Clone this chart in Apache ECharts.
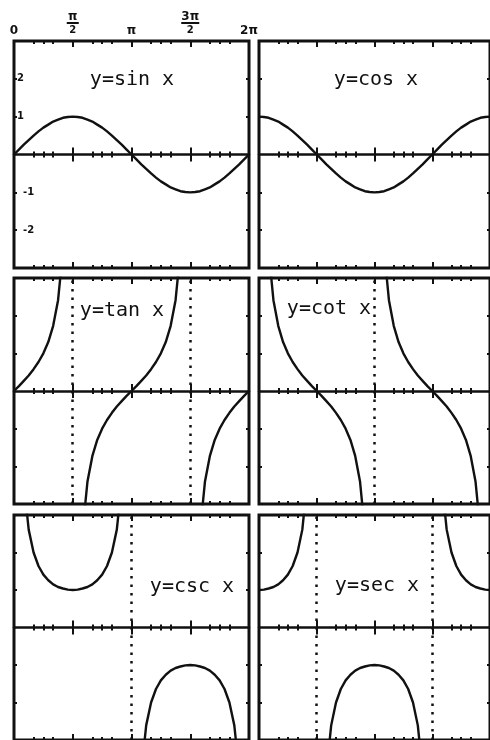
<!DOCTYPE html>
<html><head><meta charset="utf-8">
<script src="https://cdn.jsdelivr.net/npm/echarts@6/dist/echarts.min.js"></script>
<style>html,body{margin:0;padding:0;background:#fff}#c{width:490px;height:740px}</style>
</head><body><div id="c"></div>
<script>
// x sample positions (radians), read along the horizontal axis
const xs = [0,0.1309,0.2618,0.3927,0.5236,0.6545,0.7854,0.9163,1.0472,1.1781,1.309,1.4399,1.5708,1.7017,1.8326,1.9635,2.0944,2.2253,2.3562,2.4871,2.618,2.7489,2.8798,3.0107,3.1416,3.2725,3.4034,3.5343,3.6652,3.7961,3.927,4.0579,4.1888,4.3197,4.4506,4.5815,4.7124,4.8433,4.9742,5.1051,5.236,5.3669,5.4978,5.6287,5.7596,5.8905,6.0214,6.1523,6.2832];

const sinY = [0,0.13,0.26,0.38,0.5,0.61,0.71,0.79,0.87,0.92,0.97,0.99,1,0.99,0.97,0.92,0.87,0.79,0.71,0.61,0.5,0.38,0.26,0.13,0,-0.13,-0.26,-0.38,-0.5,-0.61,-0.71,-0.79,-0.87,-0.92,-0.97,-0.99,-1,-0.99,-0.97,-0.92,-0.87,-0.79,-0.71,-0.61,-0.5,-0.38,-0.26,-0.13,0];
const cosY = [1,0.99,0.97,0.92,0.87,0.79,0.71,0.61,0.5,0.38,0.26,0.13,0,-0.13,-0.26,-0.38,-0.5,-0.61,-0.71,-0.79,-0.87,-0.92,-0.97,-0.99,-1,-0.99,-0.97,-0.92,-0.87,-0.79,-0.71,-0.61,-0.5,-0.38,-0.26,-0.13,0,0.13,0.26,0.38,0.5,0.61,0.71,0.79,0.87,0.92,0.97,0.99,1];
const tanY = [0,0.13,0.27,0.41,0.58,0.77,1,1.3,1.73,2.41,3.73,7.6,null,-7.6,-3.73,-2.41,-1.73,-1.3,-1,-0.77,-0.58,-0.41,-0.27,-0.13,0,0.13,0.27,0.41,0.58,0.77,1,1.3,1.73,2.41,3.73,7.6,null,-7.6,-3.73,-2.41,-1.73,-1.3,-1,-0.77,-0.58,-0.41,-0.27,-0.13,0];
const cotY = [null,7.6,3.73,2.41,1.73,1.3,1,0.77,0.58,0.41,0.27,0.13,0,-0.13,-0.27,-0.41,-0.58,-0.77,-1,-1.3,-1.73,-2.41,-3.73,-7.6,null,7.6,3.73,2.41,1.73,1.3,1,0.77,0.58,0.41,0.27,0.13,0,-0.13,-0.27,-0.41,-0.58,-0.77,-1,-1.3,-1.73,-2.41,-3.73,-7.6,null];
const cscY = [null,7.66,3.86,2.61,2,1.64,1.41,1.26,1.15,1.08,1.04,1.01,1,1.01,1.04,1.08,1.15,1.26,1.41,1.64,2,2.61,3.86,7.66,null,-7.66,-3.86,-2.61,-2,-1.64,-1.41,-1.26,-1.15,-1.08,-1.04,-1.01,-1,-1.01,-1.04,-1.08,-1.15,-1.26,-1.41,-1.64,-2,-2.61,-3.86,-7.66,null];
const secY = [1,1.01,1.04,1.08,1.15,1.26,1.41,1.64,2,2.61,3.86,7.66,null,-7.66,-3.86,-2.61,-2,-1.64,-1.41,-1.26,-1.15,-1.08,-1.04,-1.01,-1,-1.01,-1.04,-1.08,-1.15,-1.26,-1.41,-1.64,-2,-2.61,-3.86,-7.66,null,7.66,3.86,2.61,2,1.64,1.41,1.26,1.15,1.08,1.04,1.01,1];

const functionNames = ['y=sin x','y=cos x','y=tan x','y=cot x','y=csc x','y=sec x'];
const functionValues = [sinY, cosY, tanY, cotY, cscY, secY];
const asymptotes = [[], [], [1.5708, 4.7124], [3.1416], [3.1416], [1.5708, 4.7124]];

const majorTicks = [0, 1.5708, 3.1416, 4.7124, 6.2832];
const minorTicks = [0.5236,0.7854,1.0472,2.0944,2.3562,2.618,3.6652,3.927,4.1888,5.236,5.4978,5.7596];
const topTickLabels = ['0', 'π/2', 'π', '3π/2', '2π'];
const yTicks = [-2, -1, 1, 2];
const yTickLabels = ['-2', '-1', '1', '2'];

const INK = '#111';
const grids = [
  {left:14, top:41, width:235, height:227},
  {left:259, top:41, width:234, height:227},
  {left:14, top:278, width:235, height:226},
  {left:259, top:278, width:234, height:226},
  {left:14, top:515, width:235, height:228},
  {left:259, top:515, width:234, height:228}
];
const titlePos = [[132,80],[376,80],[122,311],[329,309],[192,587],[377,586]];

function nearestIdx(arr, v){ let b=0; for(let i=1;i<arr.length;i++){ if(Math.abs(arr[i]-v)<Math.abs(arr[b]-v)) b=i; } return b; }

const xAxes = [], yAxes = [], series = [];
grids.forEach((g, gi) => {
  const base = {type:'value', gridIndex:gi, min:majorTicks[0], max:majorTicks[4], splitLine:{show:false}, axisLabel:{show:false}};
  const tick = (vals, len, inside) => ({show:true, inside:inside, length:len, customValues:vals, lineStyle:{color:INK, width:2}});
  const yLeft = 2*gi;
  // bottom border
  xAxes.push(Object.assign({}, base, {position:'bottom', axisLine:{show:false, onZero:false}, axisTick:tick(majorTicks,6,true)}));
  xAxes.push(Object.assign({}, base, {position:'bottom', axisLine:{show:false, onZero:false}, axisTick:tick(minorTicks,3,true)}));
  // top border
  const topMajor = Object.assign({}, base, {position:'top', axisLine:{show:false, onZero:false}, axisTick:tick(majorTicks,6,true)});
  if (gi === 0) {
    topMajor.axisLabel = {
      show:true, customValues:majorTicks, margin:5,
      formatter: function(v){
        const t = topTickLabels[nearestIdx(majorTicks, v)];
        if (t.indexOf('/') >= 0) {
          const p = t.split('/');
          return '{n|'+p[0]+'}\n{'+(p[0].length>1?'barw':'bar')+'| }\n{d|'+p[1]+'}';
        }
        return '{s|'+t+'}';
      },
      rich:{
        s:{fontSize:12, fontWeight:'bold', fontFamily:'DejaVu Sans', color:INK, lineHeight:11},
        n:{fontSize:12, fontWeight:'bold', fontFamily:'DejaVu Sans', color:INK, lineHeight:9},
        bar:{width:12, height:2, lineHeight:4, fontSize:2, backgroundColor:INK},
        barw:{width:18, height:2, lineHeight:4, fontSize:2, backgroundColor:INK},
        d:{fontSize:10, fontWeight:'bold', fontFamily:'DejaVu Sans', color:INK, lineHeight:11}
      }
    };
  }
  xAxes.push(topMajor);
  xAxes.push(Object.assign({}, base, {position:'top', axisLine:{show:false, onZero:false}, axisTick:tick(minorTicks,3,true)}));
  // zero line with crossing ticks
  xAxes.push(Object.assign({}, base, {position:'bottom', axisLine:{show:true, onZero:true, onZeroAxisIndex:yLeft, lineStyle:{color:INK, width:2.5}}, axisTick:tick(majorTicks,7,true)}));
  xAxes.push(Object.assign({}, base, {position:'bottom', axisLine:{show:false, onZero:true, onZeroAxisIndex:yLeft}, axisTick:tick(majorTicks,7,false)}));
  xAxes.push(Object.assign({}, base, {position:'bottom', axisLine:{show:false, onZero:true, onZeroAxisIndex:yLeft}, axisTick:tick(minorTicks,3,true)}));
  xAxes.push(Object.assign({}, base, {position:'bottom', axisLine:{show:false, onZero:true, onZeroAxisIndex:yLeft}, axisTick:tick(minorTicks,3,false)}));

  const yBase = {type:'value', gridIndex:gi, min:-3, max:3, splitLine:{show:false}, axisLine:{show:false, onZero:false}};
  const left = Object.assign({}, yBase, {position:'left', axisTick:{show:true, inside:true, length:3, customValues:yTicks, lineStyle:{color:INK, width:2}}, axisLabel:{show:false}});
  if (gi === 0) {
    left.axisLabel = {
      show:true, inside:true, margin:3, customValues:yTicks,
      formatter: function(v){ const t = yTickLabels[nearestIdx(yTicks, v)]; return v < 0 ? '{m|'+t+'}' : '{p|'+t+'}'; },
      rich:{
        p:{fontSize:10, fontWeight:'bold', fontFamily:'DejaVu Sans', color:INK},
        m:{fontSize:10, fontWeight:'bold', fontFamily:'DejaVu Sans', color:INK, padding:[0,0,0,6]}
      }
    };
  }
  yAxes.push(left);
  yAxes.push(Object.assign({}, yBase, {position:'right', axisTick:{show:true, inside:true, length:3, customValues:yTicks, lineStyle:{color:INK, width:2}}, axisLabel:{show:false}}));

  const vals = functionValues[gi];
  series.push({
    type:'line', name:functionNames[gi], xAxisIndex:8*gi, yAxisIndex:yLeft,
    data: xs.map((x, i) => [x, vals[i]]),
    showSymbol:false, connectNulls:false, clip:true, z:3,
    lineStyle:{color:INK, width:2.4},
    markLine: asymptotes[gi].length ? {
      silent:true, symbol:['none','none'], label:{show:false},
      lineStyle:{type:[2.5,6], color:INK, width:2.5},
      data: asymptotes[gi].map(a => ({xAxis:a}))
    } : undefined
  });
});

const chart = echarts.init(document.getElementById('c'), null, {renderer:'canvas'});
chart.setOption({
  backgroundColor:'#fff',
  animation:false,
  grid: grids.map(g => Object.assign({show:true, borderColor:INK, borderWidth:3, backgroundColor:'transparent', containLabel:false}, g)),
  xAxis: xAxes,
  yAxis: yAxes,
  series: series,
  graphic: functionNames.map((t, i) => ({
    type:'text', x:titlePos[i][0], y:titlePos[i][1], z:10,
    style:{text:t, fill:INK, font:'20px "DejaVu Sans Mono"', align:'center', verticalAlign:'middle', textAlign:'center', textVerticalAlign:'middle'}
  }))
});
</script></body></html>
